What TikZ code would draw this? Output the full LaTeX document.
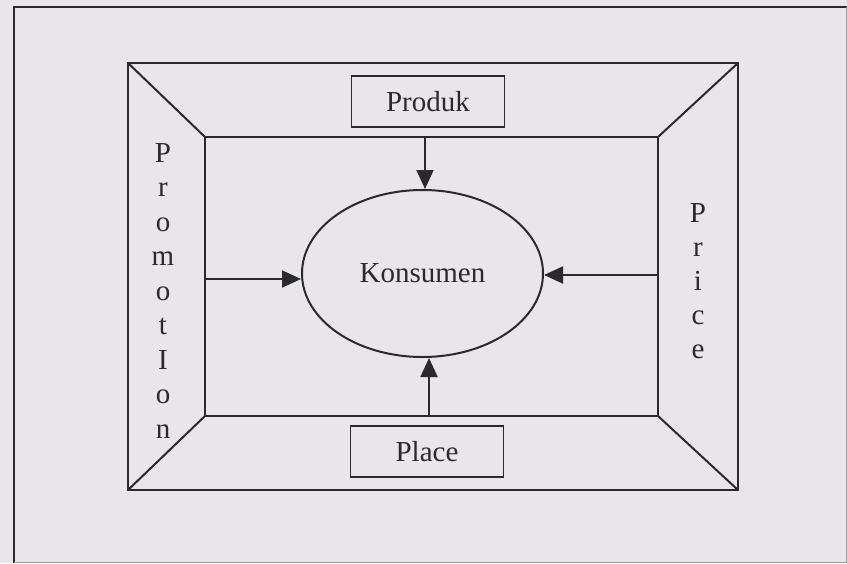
\documentclass[tikz,border=0pt]{standalone}
\usepackage{fontspec}
\setmainfont{Liberation Serif}
\usetikzlibrary{arrows.meta,shapes.geometric}
\definecolor{bg}{HTML}{E8E6EA}
\definecolor{ink}{HTML}{2A2A2C}
\tikzset{
  frame/.style={draw=ink, line width=2pt, line join=miter},
  lbl/.style={font=\fontsize{29}{34}\selectfont, text=ink, inner sep=0pt},
  boxnode/.style={draw=ink, line width=1.7pt, minimum width=153pt, minimum height=51pt, inner sep=0pt, font=\fontsize{29}{34}\selectfont, text=ink},
  arr/.style={draw=ink, line width=1.9pt, -{Triangle[length=19pt,width=17pt]}}
}
\begin{document}
\begin{tikzpicture}[x=1pt,y=-1pt]
\fill[bg] (0,0) rectangle (847,563);
\useasboundingbox (0,0) rectangle (847,563);
% outer page frame
\draw[draw=ink, line width=1.8pt] (14,563) -- (14,7) -- (847,7);
\draw[draw=ink!45, line width=1pt] (846,7) -- (846,562) -- (14,562);
% middle frame and inner rectangle
\draw[frame] (128,63) rectangle (738,490);
\draw[frame] (205,137) rectangle (658,416);
\draw[frame] (128,63) -- (205,137);
\draw[frame] (738,63) -- (658,137);
\draw[frame] (128,490) -- (205,416);
\draw[frame] (738,490) -- (658,416);
% nodes
\node[draw=ink, line width=2pt, ellipse, minimum width=241pt, minimum height=167pt, inner sep=0pt, font=\fontsize{29}{34}\selectfont, text=ink] (kons) at (422.5,273.5) {Konsumen};
\node[boxnode] (produk) at (428,101.5) {Produk};
\node[boxnode] (place) at (427,451.5) {Place};
\foreach \ch [count=\i from 0] in {P,r,o,m,o,t,I,o,n}
  \node[lbl, anchor=base] (promo\i) at (163,{162+34.5*\i}) {\ch};
\foreach \ch [count=\i from 0] in {P,r,i,c,e}
  \node[lbl, anchor=base] (price\i) at (698,{222+34*\i}) {\ch};
% arrow start points on the inner rectangle
\coordinate (ptop) at (425,137);
\coordinate (pbot) at (429,416);
\coordinate (pleft) at (205,279);
\coordinate (pright) at (658,275);
\draw[arr] (ptop) -- (ptop |- kons.north);
\draw[arr] (pbot) -- (pbot |- kons.south);
\draw[arr] (pleft) -- (pleft -| kons.west);
\draw[arr] (pright) -- (pright -| kons.east);
\end{tikzpicture}
\end{document}
